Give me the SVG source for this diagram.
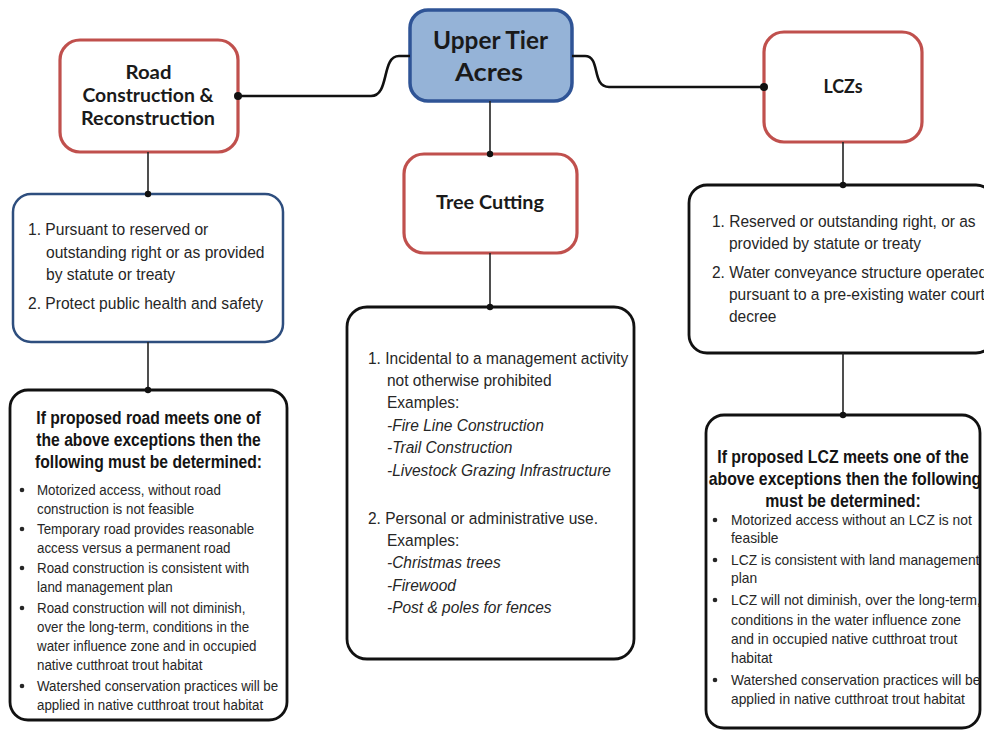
<svg xmlns="http://www.w3.org/2000/svg" width="984" height="731" viewBox="0 0 984 731">
<style>
.bg{fill:#ffffff}
.red{fill:#ffffff;stroke:#C0504D;stroke-width:3.2}
.top{fill:#95B3D7;stroke:#2F5496;stroke-width:3.5}
.blue{fill:#ffffff;stroke:#2E4E7E;stroke-width:2.5}
.blk{fill:#ffffff;stroke:#111111;stroke-width:2.8}
.con{fill:none;stroke:#111111;stroke-width:2.6}
.vl{fill:none;stroke:#222222;stroke-width:1.6}
.dot{fill:#111111}
.hd{font-family:Lato,"Liberation Sans",sans-serif;font-weight:bold;fill:#1a1a1a;text-anchor:middle}
.t{font-family:"Liberation Sans",Arial,sans-serif;fill:#262626}
.f16{font-size:16.5px}
.f15{font-size:15px}
.b{font-family:"Liberation Sans",Arial,sans-serif;font-weight:bold;font-size:18px;fill:#141414;text-anchor:middle}
.i{font-style:italic}
.bul{fill:#262626}
</style>
<rect class="bg" x="0" y="0" width="984" height="731"/>

<g id="upper-tier">
<rect class="top" x="410" y="10" width="162" height="91" rx="18"/>
<text class="hd" x="490.5" y="49" font-size="25" textLength="115" lengthAdjust="spacingAndGlyphs">Upper Tier</text>
<text class="hd" x="489" y="81" font-size="25" textLength="68" lengthAdjust="spacingAndGlyphs">Acres</text>
</g>

<g id="road">
<rect class="red" x="60" y="40" width="178" height="112" rx="20"/>
<text class="hd" x="148.5" y="79" font-size="18.5" textLength="46" lengthAdjust="spacingAndGlyphs">Road</text>
<text class="hd" x="148" y="102" font-size="18.5" textLength="131" lengthAdjust="spacingAndGlyphs">Construction &amp;</text>
<text class="hd" x="148" y="125" font-size="18.5" textLength="134" lengthAdjust="spacingAndGlyphs">Reconstruction</text>
</g>

<g id="tree-cutting">
<rect class="red" x="404" y="154" width="173" height="99" rx="20"/>
<text class="hd" x="490" y="209" font-size="18.5" textLength="108" lengthAdjust="spacingAndGlyphs">Tree Cutting</text>
</g>

<g id="lczs">
<rect class="red" x="764" y="32" width="158" height="110" rx="20"/>
<text class="hd" x="843" y="93" font-size="18.5" textLength="39" lengthAdjust="spacingAndGlyphs">LCZs</text>
</g>

<g id="road-exceptions">
<rect class="blue" x="13" y="194" width="270" height="148" rx="18"/>
<g class="t" font-size="16">
<text transform="translate(28 235) scale(0.975 1)">1. Pursuant to reserved or</text>
<text transform="translate(46 258) scale(0.975 1)">outstanding right or as provided</text>
<text transform="translate(46 280) scale(0.975 1)">by statute or treaty</text>
<text transform="translate(28 309) scale(0.975 1)">2. Protect public health and safety</text>
</g>
</g>

<g id="road-determinations">
<rect class="blk" x="10" y="390" width="277" height="330" rx="18"/>
<text class="b" transform="translate(148.5 424) scale(0.87 1)">If proposed road meets one of</text>
<text class="b" transform="translate(148.5 446) scale(0.87 1)">the above exceptions then the</text>
<text class="b" transform="translate(148.5 468) scale(0.87 1)">following must be determined:</text>
<g class="bul">
<circle cx="22" cy="490" r="2.3"/>
<circle cx="22" cy="529" r="2.3"/>
<circle cx="22" cy="568" r="2.3"/>
<circle cx="22" cy="608" r="2.3"/>
<circle cx="22" cy="686" r="2.3"/>
</g>
<g class="t f15">
<text transform="translate(37 495) scale(0.89 1)">Motorized access, without road</text>
<text transform="translate(37 514) scale(0.89 1)">construction is not feasible</text>
<text transform="translate(37 534) scale(0.89 1)">Temporary road provides reasonable</text>
<text transform="translate(37 553) scale(0.89 1)">access versus a permanent road</text>
<text transform="translate(37 573) scale(0.89 1)">Road construction is consistent with</text>
<text transform="translate(37 592) scale(0.89 1)">land management plan</text>
<text transform="translate(37 613) scale(0.89 1)">Road construction will not diminish,</text>
<text transform="translate(37 632) scale(0.89 1)">over the long-term, conditions in the</text>
<text transform="translate(37 651) scale(0.89 1)">water influence zone and in occupied</text>
<text transform="translate(37 670) scale(0.89 1)">native cutthroat trout habitat</text>
<text transform="translate(37 691) scale(0.89 1)">Watershed conservation practices will be</text>
<text transform="translate(37 710) scale(0.89 1)">applied in native cutthroat trout habitat</text>
</g>
</g>

<g id="tree-cutting-uses">
<rect class="blk" x="347" y="307" width="287" height="352" rx="20"/>
<g class="t f16">
<text transform="translate(368 364) scale(0.94 1)">1. Incidental to a management activity</text>
<text transform="translate(387 386) scale(0.94 1)">not otherwise prohibited</text>
<text transform="translate(387 408) scale(0.94 1)">Examples:</text>
<text class="i" transform="translate(387 431) scale(0.94 1)">-Fire Line Construction</text>
<text class="i" transform="translate(387 453) scale(0.94 1)">-Trail Construction</text>
<text class="i" transform="translate(387 476) scale(0.94 1)">-Livestock Grazing Infrastructure</text>
<text transform="translate(368 524) scale(0.94 1)">2. Personal or administrative use.</text>
<text transform="translate(387 546) scale(0.94 1)">Examples:</text>
<text class="i" transform="translate(387 568) scale(0.94 1)">-Christmas trees</text>
<text class="i" transform="translate(387 591) scale(0.94 1)">-Firewood</text>
<text class="i" transform="translate(387 613) scale(0.94 1)">-Post &amp; poles for fences</text>
</g>
</g>

<g id="lcz-exceptions">
<rect class="blk" x="689" y="185" width="305" height="168" rx="18"/>
<g class="t f16">
<text transform="translate(712 227) scale(0.94 1)">1. Reserved or outstanding right, or as</text>
<text transform="translate(729 249) scale(0.94 1)">provided by statute or treaty</text>
<text transform="translate(712 278) scale(0.94 1)">2. Water conveyance structure operated</text>
<text transform="translate(729 300) scale(0.94 1)">pursuant to a pre-existing water court</text>
<text transform="translate(729 322) scale(0.94 1)">decree</text>
</g>
</g>

<g id="lcz-determinations">
<rect class="blk" x="706" y="415" width="274" height="313" rx="18"/>
<text class="b" transform="translate(843 463) scale(0.88 1)">If proposed LCZ meets one of the</text>
<text class="b" transform="translate(845 485) scale(0.88 1)">above exceptions then the following</text>
<text class="b" transform="translate(843 507) scale(0.88 1)">must be determined:</text>
<g class="bul">
<circle cx="715" cy="520" r="2.3"/>
<circle cx="715" cy="560" r="2.3"/>
<circle cx="715" cy="600" r="2.3"/>
<circle cx="715" cy="680" r="2.3"/>
</g>
<g class="t f15">
<text transform="translate(731 525) scale(0.92 1)">Motorized access without an LCZ is not</text>
<text transform="translate(731 543) scale(0.92 1)">feasible</text>
<text transform="translate(731 565) scale(0.92 1)">LCZ is consistent with land management</text>
<text transform="translate(731 583) scale(0.92 1)">plan</text>
<text transform="translate(731 605) scale(0.92 1)">LCZ will not diminish, over the long-term,</text>
<text transform="translate(731 625) scale(0.92 1)">conditions in the water influence zone</text>
<text transform="translate(731 644) scale(0.92 1)">and in occupied native cutthroat trout</text>
<text transform="translate(731 663) scale(0.92 1)">habitat</text>
<text transform="translate(731 685) scale(0.92 1)">Watershed conservation practices will be</text>
<text transform="translate(731 704) scale(0.92 1)">applied in native cutthroat trout habitat</text>
</g>
</g>

<g id="connectors">
<path class="con" d="M238,96 L371,96 C390,96 381,56 399,56 L410,56"/>
<path class="con" d="M572,56 L585,56 C601,56 591,87 609,87 L764,87"/>
<line class="vl" x1="490" y1="101" x2="490" y2="154"/>
<line class="vl" x1="490" y1="253" x2="490" y2="307"/>
<line class="vl" x1="148" y1="152" x2="148" y2="194"/>
<line class="vl" x1="148" y1="342" x2="148" y2="390"/>
<line class="vl" x1="843" y1="142" x2="843" y2="185"/>
<line class="vl" x1="843" y1="353" x2="843" y2="415"/>
<circle class="dot" cx="238" cy="96" r="4"/>
<circle class="dot" cx="764" cy="87" r="4"/>
<circle class="dot" cx="490" cy="154" r="3.2"/>
<circle class="dot" cx="490" cy="307" r="3.2"/>
<circle class="dot" cx="148" cy="194" r="3.2"/>
<circle class="dot" cx="148" cy="390" r="3.2"/>
<circle class="dot" cx="843" cy="185" r="3.2"/>
<circle class="dot" cx="843" cy="415" r="3.2"/>
</g>
</svg>
